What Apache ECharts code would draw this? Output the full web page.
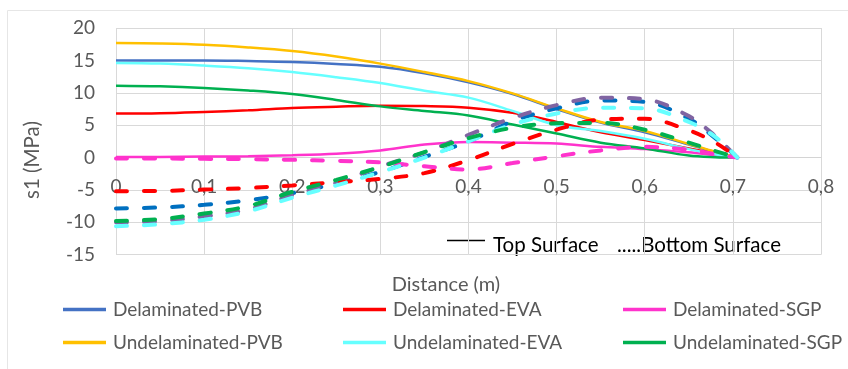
<!DOCTYPE html>
<html>
<head>
<meta charset="utf-8">
<script src="https://cdn.jsdelivr.net/npm/echarts@6/dist/echarts.min.js"></script>
<style>
html,body{margin:0;padding:0;background:#fff;}
#chart{width:848px;height:369px;}
</style>
</head>
<body>
<div id="chart"></div>
<script>
// Distance along the plate (m)
const distance = [0, 0.05, 0.1, 0.15, 0.2, 0.25, 0.3, 0.35, 0.4, 0.45, 0.5, 0.55, 0.6, 0.65, 0.68, 0.705];

// Top surface (solid lines)
const delamPVB = [15.0, 15.0, 15.0, 14.9, 14.75, 14.45, 14.0, 13.0, 11.6, 9.8, 7.5, 5.4, 3.9, 2.0, 0.85, 0];
const delamEVA = [6.8, 6.85, 7.05, 7.3, 7.65, 7.85, 8.0, 7.95, 7.7, 6.9, 5.5, 3.9, 2.7, 1.4, 0.6, 0];
const delamSGP = [0.1, 0.1, 0.15, 0.2, 0.35, 0.6, 1.1, 2.0, 2.4, 2.3, 2.15, 1.65, 1.3, 0.8, 0.35, 0];
const undelPVB = [17.7, 17.6, 17.4, 17.0, 16.45, 15.6, 14.5, 13.2, 11.8, 9.9, 7.6, 5.5, 4.1, 2.1, 0.9, 0];
const undelEVA = [14.6, 14.5, 14.2, 13.8, 13.2, 12.4, 11.5, 10.3, 9.25, 7.2, 5.0, 4.1, 2.9, 1.3, 0.5, 0];
const undelSGP = [11.1, 11.0, 10.75, 10.35, 9.8, 8.9, 7.9, 7.2, 6.5, 5.1, 3.7, 2.3, 1.4, 0.3, 0.05, 0];

// Bottom surface (dashed lines)
const delamPVBBottom = [-7.85, -7.7, -7.3, -6.6, -5.5, -4.0, -2.2, 0.1, 2.5, 5.6, 7.6, 8.8, 8.6, 6.0, 3.0, 0];
const delamEVABottom = [-5.2, -5.15, -4.95, -4.7, -4.3, -3.8, -3.3, -2.4, -0.4, 2.1, 4.3, 5.85, 6.0, 4.2, 2.3, 0];
const delamSGPBottom = [-0.15, -0.15, -0.2, -0.25, -0.35, -0.5, -0.75, -1.35, -1.85, -0.85, 0.2, 1.1, 1.65, 1.2, 0.5, 0];
const undelPVBBottom = [-10.0, -9.8, -9.1, -8.0, -5.8, -3.9, -1.4, 0.8, 3.5, 6.1, 8.1, 9.25, 9.0, 6.4, 3.3, 0];
const undelEVABottom = [-10.6, -10.3, -9.6, -8.3, -6.2, -4.3, -2.25, 0.0, 2.5, 5.1, 6.8, 7.7, 7.6, 5.5, 3.2, 0];
const undelSGPBottom = [-9.8, -9.5, -8.65, -7.5, -5.3, -3.45, -1.45, 0.85, 3.0, 4.6, 5.3, 5.35, 4.3, 2.3, 1.0, 0];

const legendNames = ['Delaminated-PVB', 'Delaminated-EVA', 'Delaminated-SGP',
                     'Undelaminated-PVB', 'Undelaminated-EVA', 'Undelaminated-SGP'];
const xTicks = [0, 0.1, 0.2, 0.3, 0.4, 0.5, 0.6, 0.7, 0.8];

const FONT = 'Lato';
function pairs(ys) { return distance.map((d, i) => [d, ys[i]]); }

function solid(name, ys, color) {
  return { name: name, type: 'line', data: pairs(ys), smooth: 0.35, showSymbol: false, symbol: 'none',
    lineStyle: { color: color, width: 2.5 }, itemStyle: { color: color }, z: 3 };
}
function dashed(name, ys, color) {
  return { name: name, type: 'line', data: pairs(ys), smooth: 0.35, showSymbol: false, symbol: 'none',
    lineStyle: { color: color, width: 4, type: [11, 17], cap: 'round' }, itemStyle: { color: color }, z: 4 };
}

// grid geometry
const gridLeft = 116, gridTop = 28, gridBottomPx = 254.7;
const zeroPx = 157.3;

const legends = legendNames.map((n, i) => ({
  data: [n], left: 58 + (i % 3) * 280, top: i < 3 ? 295 : 328,
  icon: 'rect', itemWidth: 43, itemHeight: 3.5, itemGap: 0,
  textStyle: { fontFamily: FONT, fontSize: 19, color: '#595959', padding: [0, 0, 0, 2] }
}));

const chart = echarts.init(document.getElementById('chart'), null, { renderer: 'canvas' });
chart.setOption({
  animation: false,
  backgroundColor: '#ffffff',
  grid: { left: gridLeft, right: 27, top: gridTop, bottom: 369 - gridBottomPx, containLabel: false },
  xAxis: {
    type: 'value', min: 0, max: 0.8, interval: 0.1,
    offset: -(gridBottomPx - zeroPx),
    axisLine: { show: true, onZero: false, lineStyle: { color: '#d4d4d4', width: 1 } },
    axisTick: { show: false },
    splitLine: { show: true, lineStyle: { color: '#d9d9d9', width: 1 } },
    axisLabel: { margin: 20, fontFamily: FONT, fontSize: 19, color: '#595959',
      formatter: v => { const t = xTicks.find(k => Math.abs(k - v) < 1e-9); return String(t !== undefined ? t : v).replace('.', ','); } }
  },
  yAxis: {
    type: 'value', min: -15, max: 20, interval: 5,
    axisLine: { show: false }, axisTick: { show: false },
    splitLine: { show: true, lineStyle: { color: '#d9d9d9', width: 1 } },
    axisLabel: { margin: 21, fontFamily: FONT, fontSize: 19, color: '#595959' }
  },
  legend: legends,
  graphic: [
    { type: 'rect', silent: true, shape: { x: 7.5, y: 10.5, width: 860, height: 380 },
      style: { fill: 'none', stroke: '#e6e6e6', lineWidth: 1 } },
    { type: 'text', x: 446, y: 285, style: { text: 'Distance (m)', font: '20px ' + FONT, fill: '#595959', align: 'center', verticalAlign: 'middle' } },
    { type: 'text', x: 32, y: 160, rotation: Math.PI / 2,
      style: { text: 's1 (MPa)', font: '20.5px ' + FONT, fill: '#595959', align: 'center', verticalAlign: 'middle' } },
    { type: 'line', shape: { x1: 447, y1: 240.5, x2: 485, y2: 240.5 }, style: { stroke: '#000', lineWidth: 1.5 } },
    { type: 'text', x: 493, y: 245, style: { text: 'Top Surface', font: '20.5px ' + FONT, fill: '#000', verticalAlign: 'middle' } },
    { type: 'text', x: 617, y: 245, style: { text: '.....Bottom Surface', font: '20.5px ' + FONT, fill: '#000', verticalAlign: 'middle' } }
  ],
  series: [
    solid('Delaminated-PVB', delamPVB, '#4472C4'),
    solid('Delaminated-EVA', delamEVA, '#FF0000'),
    solid('Delaminated-SGP', delamSGP, '#FF33CC'),
    solid('Undelaminated-PVB', undelPVB, '#FFC000'),
    solid('Undelaminated-EVA', undelEVA, '#66FFFF'),
    solid('Undelaminated-SGP', undelSGP, '#00B050'),
    dashed('Delaminated-PVB bottom', delamPVBBottom, '#0070C0'),
    dashed('Undelaminated-PVB bottom', undelPVBBottom, '#8064A2'),
    dashed('Delaminated-EVA bottom', delamEVABottom, '#FF0000'),
    dashed('Delaminated-SGP bottom', delamSGPBottom, '#FF33CC'),
    dashed('Undelaminated-EVA bottom', undelEVABottom, '#66FFFF'),
    dashed('Undelaminated-SGP bottom', undelSGPBottom, '#00B050')
  ]
});
</script>
</body>
</html>
